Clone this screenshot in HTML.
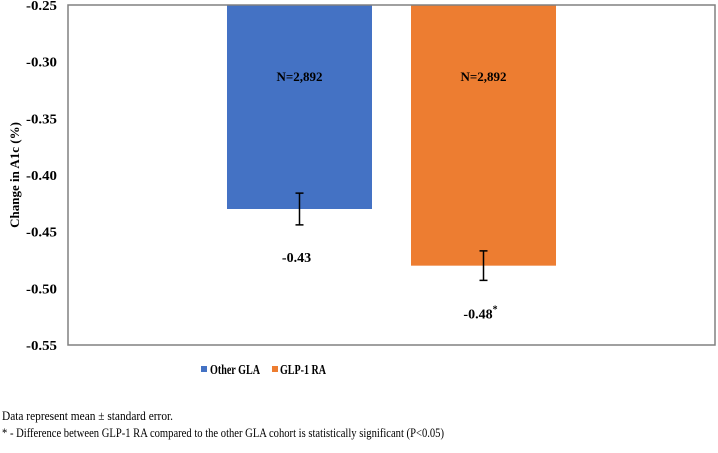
<!DOCTYPE html>
<html><head><meta charset="utf-8"><style>
body{margin:0;background:#fff;width:718px;height:448px;overflow:hidden;font-family:"Liberation Serif",serif}
</style></head><body>
<svg width="718" height="448">
<g id="plot"></g>
<text transform="translate(19,175) rotate(-90)" text-anchor="middle" font-size="13" font-weight="bold">Change in A1c (%)</text>
<g>
<rect x="201" y="366" width="6" height="6" fill="#4472c4"/>
<text x="210" y="374" font-size="14" font-weight="bold" textLength="50" lengthAdjust="spacingAndGlyphs">Other GLA</text>
<rect x="272" y="366" width="6" height="6" fill="#ed7d31"/>
<text x="280" y="374" font-size="14" font-weight="bold" textLength="46" lengthAdjust="spacingAndGlyphs">GLP-1 RA</text>
</g>
<text x="2" y="420" font-size="13" textLength="171" lengthAdjust="spacingAndGlyphs">Data represent mean ± standard error.</text>
<text x="2" y="437" font-size="13" textLength="442" lengthAdjust="spacingAndGlyphs">* - Difference  between GLP-1 RA compared to the other GLA cohort is statistically  significant  (P&lt;0.05)</text>
</svg>
<script>
const categories=["Other GLA","GLP-1 RA"];
const values=[-0.43,-0.48];
const errors=[0.014,0.013];
const nLabels=["N=2,892","N=2,892"];
const valueLabels=["-0.43","-0.48"];
const ticks=[-0.25,-0.30,-0.35,-0.40,-0.45,-0.50,-0.55];
const colors=["#4472c4","#ed7d31"];
const L=68,R=715,T=5,B=345,yMin=-0.55,yMax=-0.25;
const y=v=>T+(yMax-v)/(yMax-yMin)*(B-T);
const x=i=>L+(R-L)*(0.3578+0.2844*i);
const bw=145;
const g=document.getElementById('plot');
const NS='http://www.w3.org/2000/svg';
function mk(t,a){const e=document.createElementNS(NS,t);for(const k in a)e.setAttribute(k,a[k]);g.appendChild(e);return e;}
ticks.forEach(t=>{const e=mk('text',{x:L-11,y:y(t)+5,'text-anchor':'end','font-size':14,'font-weight':'bold',textLength:31,lengthAdjust:'spacingAndGlyphs'});e.textContent=t.toFixed(2);

});
categories.forEach((c,i)=>{
const cx=x(i);
const r=mk('rect',{x:cx-bw/2,y:T,width:bw,height:y(values[i])-T,fill:colors[i]});


const y1=y(values[i]+errors[i]),y2=y(values[i]-errors[i]);
const eb=mk('path',{d:`M${cx},${y1}V${y2}M${cx-4},${y1}H${cx+4}M${cx-4},${y2}H${cx+4}`,stroke:'#000','stroke-width':1.5,fill:'none'});


const n=mk('text',{x:cx,y:81,'text-anchor':'middle','font-size':13,'font-weight':'bold'});n.textContent=nLabels[i];


const v=mk('text',{x:cx-3,y:y(values[i])+53,'text-anchor':'middle','font-size':14,'font-weight':'bold'});v.textContent=valueLabels[i];


if(i===1){const s=mk('tspan',{dy:-6,'font-size':10});s.textContent='*';v.appendChild(s);}
});
const box=mk('rect',{x:L,y:T,width:R-L,height:B-T,fill:'none',stroke:'#808080','stroke-width':1.5});


</script>
</body></html>
